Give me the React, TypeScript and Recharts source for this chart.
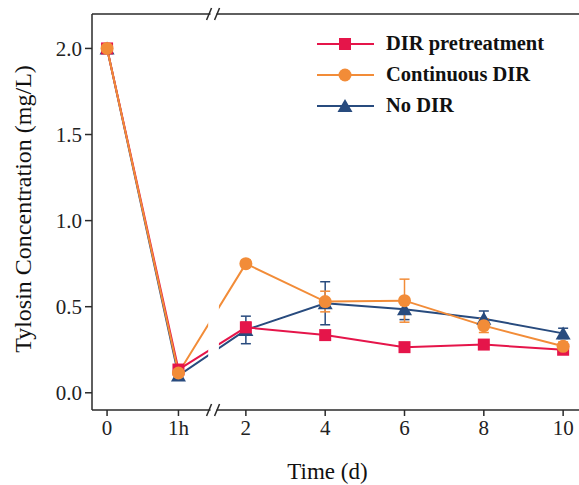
import {
  LineChart,
  Line,
  XAxis,
  YAxis,
  ErrorBar,
  Legend,
  ReferenceArea,
  ReferenceLine,
} from 'recharts'

// sampling times; "0" and "1h" sit before the axis break, days after it
const timeLabels = ['0', '1h', '2', '4', '6', '8', '10']
const timePositions = [-1.5, 0.3, 2, 4, 6, 8, 10]

// tylosin concentration (mg/L) with error
const pretreatment = [2.0, 0.135, 0.38, 0.335, 0.265, 0.28, 0.25]
const pretreatmentErr = [0.01, 0.02, 0.03, 0.02, 0.02, 0.02, 0.02]
const continuous = [2.0, 0.115, 0.75, 0.53, 0.535, 0.39, 0.27]
const continuousErr = [0.01, 0.02, 0.02, 0.06, 0.125, 0.04, 0.025]
const noDir = [2.0, 0.1, 0.365, 0.52, 0.485, 0.43, 0.345]
const noDirErr = [0.01, 0.02, 0.08, 0.125, 0.06, 0.045, 0.03]

const yTicks = [0, 0.5, 1.0, 1.5, 2.0]

const RED = '#E5154A'
const ORANGE = '#F28C38'
const BLUE = '#284B7E'
const AXIS = '#2a2a2a'
const FONT = '"Liberation Serif", "Times New Roman", serif'

const data = timePositions.map((pos, i) => ({
  pos,
  pretreatment: pretreatment[i],
  pretreatmentErr: pretreatmentErr[i],
  continuous: continuous[i],
  continuousErr: continuousErr[i],
  noDir: noDir[i],
  noDirErr: noDirErr[i],
}))

const series = [
  { key: 'noDir', name: 'No DIR', color: BLUE, shape: 'triangle' },
  { key: 'pretreatment', name: 'DIR pretreatment', color: RED, shape: 'square' },
  { key: 'continuous', name: 'Continuous DIR', color: ORANGE, shape: 'circle' },
]
const legendOrder = ['pretreatment', 'continuous', 'noDir']

function Marker({ shape, cx, cy, color }: { shape: string; cx: number; cy: number; color: string }) {
  if (shape === 'square') {
    return <rect x={cx - 6} y={cy - 6} width={12} height={12} fill={color} />
  }
  if (shape === 'circle') {
    return <circle cx={cx} cy={cy} r={6.5} fill={color} />
  }
  return <path d={`M${cx},${cy - 7} L${cx + 7.5},${cy + 6} L${cx - 7.5},${cy + 6} Z`} fill={color} />
}

// white gap through the lines plus the "//" marks on both axes
function AxisBreak(props: any) {
  const { x, y, width, height } = props
  const cx = x + width / 2
  const edges = [y, y + height]
  return (
    <g>
      <rect x={x} y={y + 4} width={width} height={height - 8} fill="#fff" />
      {edges.map((yy) => (
        <g key={yy}>
          <rect x={cx - 3} y={yy - 2} width={6} height={4} fill="#fff" />
          <line x1={cx - 7} y1={yy + 6} x2={cx - 2} y2={yy - 6} stroke={AXIS} strokeWidth={1.5} />
          <line x1={cx + 1} y1={yy + 6} x2={cx + 6} y2={yy - 6} stroke={AXIS} strokeWidth={1.5} />
        </g>
      ))}
    </g>
  )
}

function LegendContent() {
  return (
    <div style={{ fontFamily: FONT, fontWeight: 'bold', fontSize: 20.5, color: '#111' }}>
      {legendOrder.map((k) => {
        const s = series.find((d) => d.key === k)!
        return (
          <div key={k} style={{ display: 'flex', alignItems: 'center', height: 31 }}>
            <svg width={57} height={18}>
              <line x1={0} y1={9} x2={57} y2={9} stroke={s.color} strokeWidth={2} />
              <Marker shape={s.shape} cx={28} cy={9} color={s.color} />
            </svg>
            <span style={{ marginLeft: 12 }}>{s.name}</span>
          </div>
        )
      })}
    </div>
  )
}

export default function App() {
  const tickStyle = { fontFamily: FONT, fontSize: 21, fill: '#222' }
  return (
    <div style={{ position: 'absolute', left: 0, top: 0, background: '#fff' }}>
      <LineChart
        width={579}
        height={485}
        data={data}
        margin={{ top: 14, right: 0, bottom: 0, left: 0 }}
      >
        <XAxis
          dataKey="pos"
          type="number"
          domain={[-1.88, 10.4]}
          ticks={timePositions}
          tickFormatter={(v: number) => timeLabels[timePositions.indexOf(v)] ?? ''}
          allowDataOverflow
          height={75}
          tick={tickStyle}
          tickSize={6}
          tickMargin={4}
          stroke={AXIS}
          strokeWidth={1.5}
          label={{
            value: 'Time (d)',
            position: 'insideBottom',
            offset: 6,
            dx: -8,
            style: { fontFamily: FONT, fontSize: 23, fill: '#111' },
          }}
        />
        <YAxis
          type="number"
          domain={[-0.1, 2.2]}
          ticks={yTicks}
          tickFormatter={(v: number) => v.toFixed(1)}
          allowDataOverflow
          width={92}
          tick={tickStyle}
          tickSize={7}
          tickMargin={3}
          stroke={AXIS}
          strokeWidth={1.5}
          label={{
            value: 'Tylosin Concentration (mg/L)',
            angle: -90,
            position: 'insideLeft',
            offset: 22,
            dy: -3,
            style: { textAnchor: 'middle', fontFamily: FONT, fontSize: 24, fill: '#111' },
          }}
        />
        <ReferenceLine y={2.2} stroke={AXIS} strokeWidth={1.5} />
        {series.map((s) => (
          <Line
            key={s.key}
            dataKey={s.key}
            name={s.name}
            type="linear"
            stroke={s.color}
            strokeWidth={2}
            isAnimationActive={false}
            dot={(p: any) => (
              <Marker key={`${s.key}-${p.index}`} shape={s.shape} cx={p.cx} cy={p.cy} color={s.color} />
            )}
            activeDot={false}
          >
            <ErrorBar
              dataKey={`${s.key}Err`}
              width={5}
              stroke={s.color}
              strokeWidth={1.5}
              direction="y"
              isAnimationActive={false}
            />
          </Line>
        ))}
        <ReferenceArea
          x1={1.05}
          x2={1.32}
          ifOverflow="visible"
          zIndex={1000}
          shape={(p: any) => <AxisBreak {...p} />}
        />
        <Legend
          layout="vertical"
          align="center"
          verticalAlign="middle"
          content={() => <LegendContent />}
          wrapperStyle={{ left: 317, top: 28, width: 260 }}
        />
      </LineChart>
    </div>
  )
}
